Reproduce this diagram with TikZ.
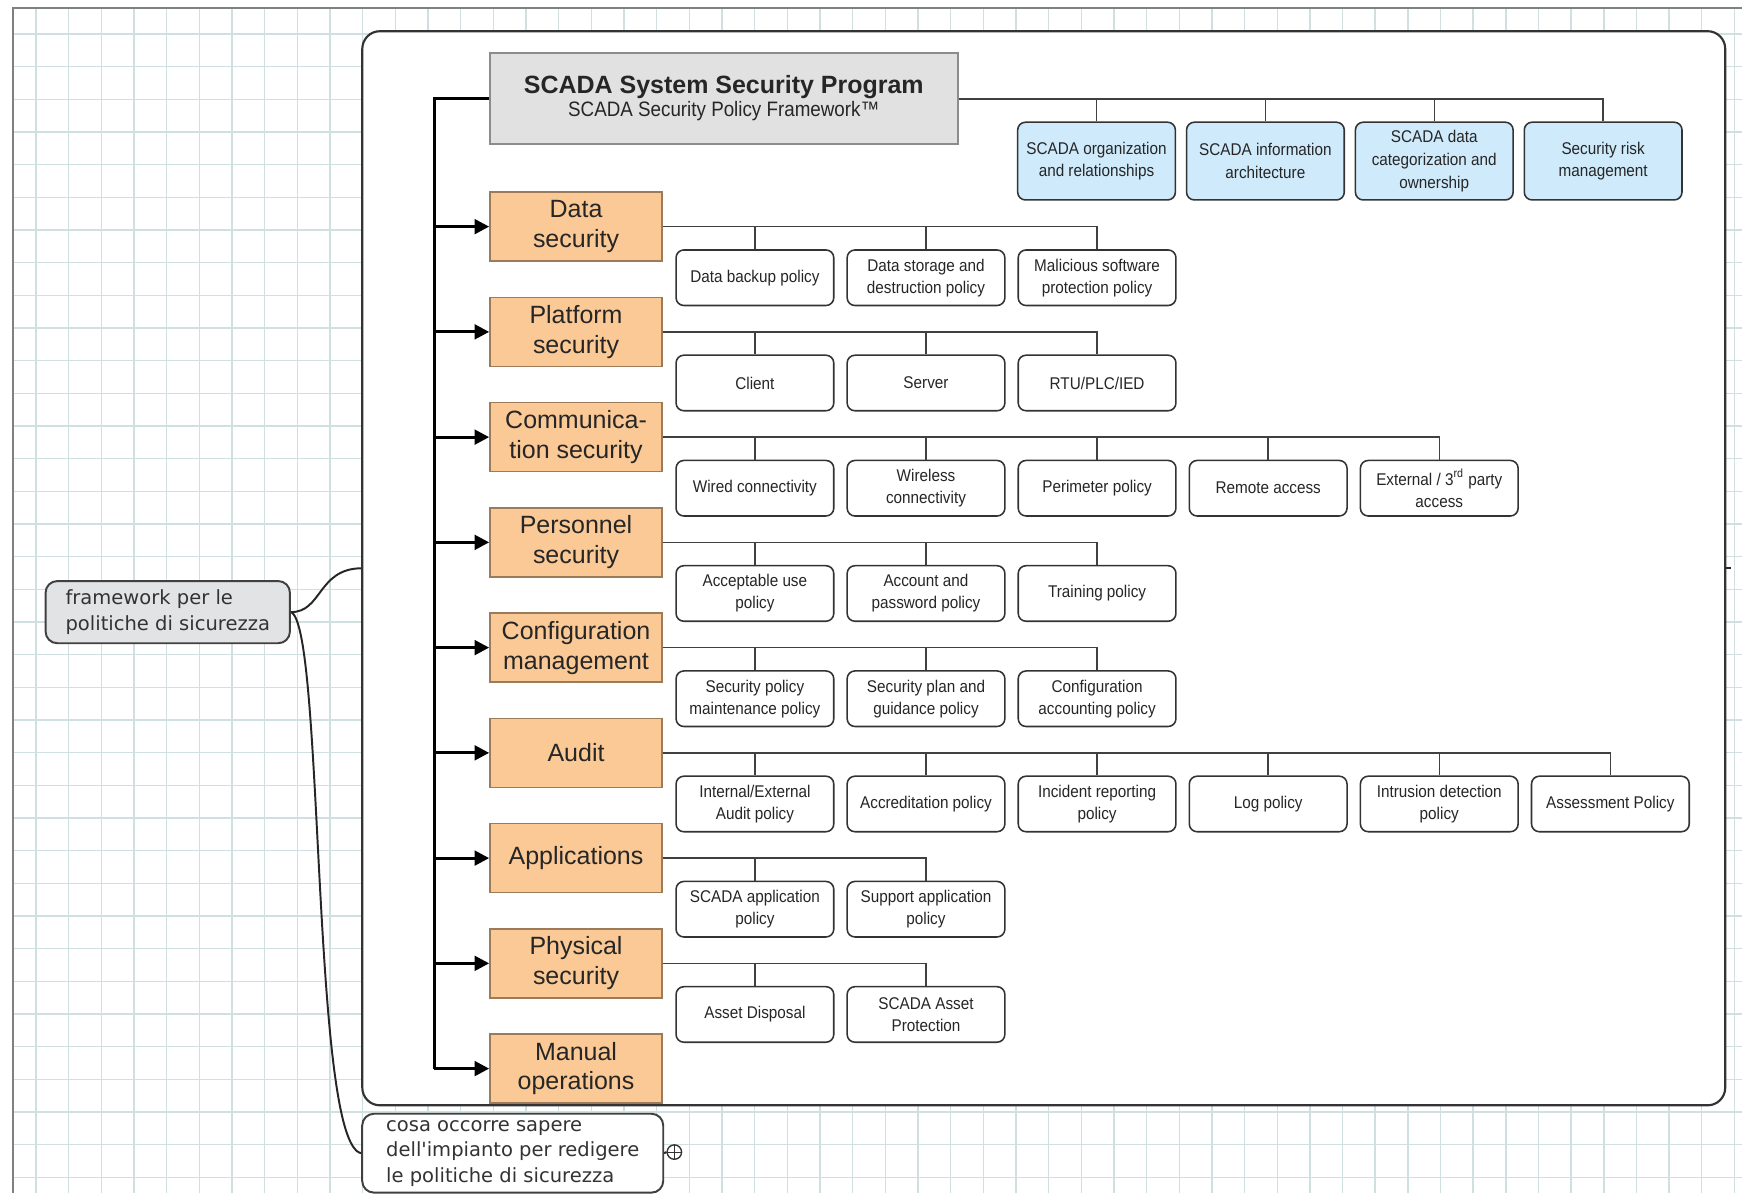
\documentclass[tikz,border=0pt]{standalone}
\usepackage{fontspec}
\setmainfont{Liberation Sans}
\newfontfamily\narrowfont[FakeStretch=0.9]{Liberation Sans}
\newfontfamily\mapfont{DejaVu Sans}
\usepackage{tikz}
\usetikzlibrary{trees,positioning,arrows.meta}
\definecolor{gridcol}{HTML}{D0DFDF}
\definecolor{catfill}{HTML}{FBC995}
\definecolor{catline}{HTML}{9C7B5A}
\definecolor{topicfill}{HTML}{CFEAFA}
\definecolor{headfill}{HTML}{E1E1E1}
\definecolor{notefill}{HTML}{E2E3E5}

\begin{document}
\begin{tikzpicture}[
			x=0.02cm, y=-0.02cm,
			node distance=1.895cm, on grid,
			edge from parent/.style={draw, line width=0.8pt, black!75},
			edge from parent path={(\tikzparentnode.east) -| (\tikzchildnode.north)},
			level 1/.style={grow via three points={one child at (161,46) and two children at (161,46) and (315,46)}},
			gridline/.style={gridcol, line width=0.7pt},
			panel/.style={draw=black!80, line width=1.1pt, fill=white, rounded corners=9pt, minimum width=24.54cm, minimum height=19.34cm},
			head/.style={draw=black!45, line width=1pt, fill=headfill, minimum width=8.42cm, minimum height=1.64cm, align=center, text=black!85},
			topic/.style={draw=black!80, line width=0.8pt, rounded corners=4pt, fill=topicfill, minimum width=2.84cm, minimum height=1.4cm, inner sep=1pt, align=center, text=black!85, font=\narrowfont\fontsize{8.7}{11.6}\selectfont},
			cat/.style={draw=catline, line width=0.8pt, fill=catfill, minimum width=3.1cm, minimum height=1.24cm, inner sep=1pt, align=center, text=black!85, font=\fontsize{12.8}{15.3}\selectfont},
			leaf/.style={draw=black!80, line width=0.8pt, rounded corners=4pt, fill=white, minimum width=2.84cm, minimum height=1cm, inner sep=1pt, align=center, text=black!85, font=\narrowfont\fontsize{8.7}{11.3}\selectfont},
			note/.style={draw=black!75, line width=1pt, rounded corners=6pt, align=left, text=black!80, font=\mapfont\fontsize{10}{13}\selectfont},
			plus/.style={circle, draw=black!80, line width=0.7pt, minimum size=0.26cm, inner sep=0pt,
				path picture={\draw[line width=0.6pt] (path picture bounding box.north) -- (path picture bounding box.south) (path picture bounding box.west) -- (path picture bounding box.east);}},
			spine/.style={line width=1.6pt},
			feed/.style={spine, -{Triangle[length=7.5pt, width=7.5pt]}},
			link/.style={line width=1pt, black!85}
			]
			\useasboundingbox (0,0) rectangle (1568,1074);
			% squared paper
			\foreach \i in {0,...,52}
				\draw[gridline] ({32.4+29.4*\i},7) -- ({32.4+29.4*\i},1074);
			\foreach \j in {0,...,35}
				\draw[gridline] (12,{30.6+29.4*\j}) -- (1568,{30.6+29.4*\j});
			\draw[line width=1pt, black!50] (12,1074) -- (12,7) -- (1568,7);

			\node[panel] (panel) at (939.5,511.5) {};

			% program and its four pillars
			\begin{scope}[level 1/.style={grow via three points={one child at (335.5,56) and two children at (335.5,56) and (487.5,56)}}]
			\node[head] (prog) at (651.5,89) {{\bfseries\fontsize{12.8}{15}\selectfont SCADA System Security Program}\\[0pt]{\narrowfont\fontsize{10.7}{12}\selectfont SCADA Security Policy Framework™}\\[-9pt]{}}
			child {node[topic] (org) {SCADA organization\\and relationships}}
			child {node[topic] (arch) {SCADA information\\architecture}}
			child {node[topic] (own) {SCADA data\\categorization and\\ownership}}
			child {node[topic] (risk) {Security risk\\management}};
			\end{scope}

			% policy areas
			\node[cat] (data) at (518.5,204) {Data\\security}
			child {node[leaf] (backup) {Data backup policy}}
			child {node[leaf] (storage) {Data storage and\\destruction policy}}
			child {node[leaf] (malware) {Malicious software\\protection policy}};
			\node[cat, below=of data] (platform) {Platform\\security}
			child {node[leaf] (client) {Client}}
			child {node[leaf] (server) {Server}}
			child {node[leaf] (rtu) {RTU/PLC/IED}};
			\node[cat, below=of platform] (comm) {Communica-\\tion security}
			child {node[leaf] (wired) {Wired connectivity}}
			child {node[leaf] (wireless) {Wireless\\connectivity}}
			child {node[leaf] (perimeter) {Perimeter policy}}
			child {node[leaf] (remote) {Remote access}}
			child {node[leaf] (external) {External / 3\textsuperscript{rd} party\\access}};
			\node[cat, below=of comm] (personnel) {Personnel\\security}
			child {node[leaf] (use) {Acceptable use\\policy}}
			child {node[leaf] (account) {Account and\\password policy}}
			child {node[leaf] (training) {Training policy}};
			\node[cat, below=of personnel] (config) {Configuration\\management}
			child {node[leaf] (maint) {Security policy\\maintenance policy}}
			child {node[leaf] (plan) {Security plan and\\guidance policy}}
			child {node[leaf] (accounting) {Configuration\\accounting policy}};
			\node[cat, below=of config] (audit) {Audit}
			child {node[leaf] (intext) {Internal/External\\Audit policy}}
			child {node[leaf] (accred) {Accreditation policy}}
			child {node[leaf] (incident) {Incident reporting\\policy}}
			child {node[leaf] (log) {Log policy}}
			child {node[leaf] (intrusion) {Intrusion detection\\policy}}
			child {node[leaf] (assess) {Assessment Policy}};
			\node[cat, below=of audit] (apps) {Applications}
			child {node[leaf] (scadaapp) {SCADA application\\policy}}
			child {node[leaf] (support) {Support application\\policy}};
			\node[cat, below=of apps] (physical) {Physical\\security}
			child {node[leaf] (disposal) {Asset Disposal}}
			child {node[leaf] (protect) {SCADA Asset\\Protection}};
			\node[cat, below=of physical] (manual) {Manual\\operations};

			% spine with arrows
			\coordinate (bend) at (391,89);
			\draw[spine] (prog.west) -- (bend) -- (bend |- manual.west);
			\foreach \c in {data,platform,comm,personnel,config,audit,apps,physical,manual}
				\draw[feed] (bend |- \c.west) -- (\c.west);

			% mind map notes
			\node[note, fill=notefill, minimum width=4.4cm, minimum height=1.12cm] (fw) at (151,551) {framework per le\\politiche di sicurezza};
			\node[note, fill=white, minimum width=5.42cm, minimum height=1.42cm] (know) at (461.5,1038) {cosa occorre sapere\\dell'impianto per redigere\\le politiche di sicurezza};
			\node[plus] (more) at (607,1037) {};
			\draw[link] (fw.east) .. controls (290,551) and (286,512) .. (panel.west);
			\draw[link] (fw.east) .. controls (292,562) and (280,1030) .. (know.west);
			\draw[link] (know.east) -- (more.west);
			\draw[link] (panel.east) -- ++(4,0);
		\end{tikzpicture}
\end{document}
